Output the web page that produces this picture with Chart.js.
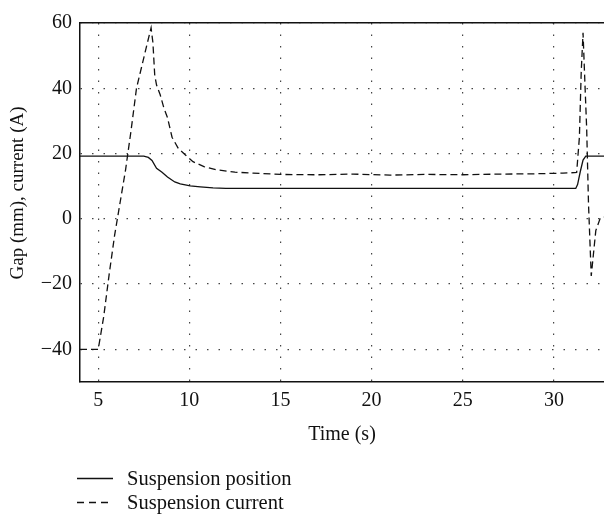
<!DOCTYPE html>
<html>
<head>
<meta charset="utf-8">
<script src="https://cdn.jsdelivr.net/npm/chart.js@4/dist/chart.umd.min.js"></script>
<style>
  body { margin: 0; background: #fff; }
  #wrap { position: relative; width: 604px; height: 516px; }
  #legend { position: absolute; left: 0; top: 0; font-family: 'Liberation Serif', serif; font-size: 20.5px; color: #111; }
  .row { position: absolute; left: 76px; white-space: nowrap; height: 24px; line-height: 24px; }
  .row svg { position: absolute; left: 0; top: 11px; }
  .row span { position: absolute; left: 51px; top: 0; }
</style>
</head>
<body>
<div id="wrap">
  <canvas id="myChart" width="604" height="516"></canvas>
  <div id="legend">
    <div class="row" style="top:466px"><svg width="40" height="3"><line x1="1" y1="1.5" x2="37" y2="1.5" stroke="#111" stroke-width="1.3"/></svg><span>Suspension position</span></div>
    <div class="row" style="top:490px"><svg width="40" height="3"><line x1="1" y1="1.5" x2="37" y2="1.5" stroke="#111" stroke-width="1.3" stroke-dasharray="7,5"/></svg><span>Suspension current</span></div>
  </div>
</div>
<script>
// values
const pos_time = [4, 7.5, 7.75, 7.95, 8.2, 8.5, 8.8, 9.2, 9.5, 10.05, 10.6, 11.3, 12.0, 31.2, 31.3, 31.45, 31.6, 31.75, 32.75];
const pos_value = [19.2, 19.2, 18.8, 17.9, 15.5, 14.3, 12.8, 11.3, 10.7, 10.1, 9.8, 9.5, 9.3, 9.3, 10.5, 14.5, 18, 19.2, 19.2];

const cur_time = [4, 5.0, 5.3, 5.6, 5.9, 6.2, 6.5, 6.8, 7.1, 7.4, 7.7, 7.9, 8.0, 8.1, 8.2, 8.4, 8.6, 8.8, 9.05, 9.4, 9.8, 10.2, 10.8, 11.5, 12.5, 13.5, 15, 17, 19, 21, 23, 25, 27, 29, 30.5, 31.25, 31.4, 31.5, 31.6, 31.7, 31.8, 31.9, 32.05, 32.3, 32.55, 32.75];
const cur_value = [-40, -40, -30, -17, -5, 5, 15, 27, 40, 47, 54, 58.5, 54, 44, 41, 38, 34, 31, 25, 21.5, 19.5, 17.5, 16, 15, 14.3, 14, 13.6, 13.5, 13.7, 13.4, 13.6, 13.5, 13.7, 13.8, 14, 14.2, 25, 45, 57, 42, 27.5, 4.5, -17.5, -3.6, 0.3, 0.5];

const x_ticks = [5, 10, 15, 20, 25, 30];
const y_ticks = [-40, -20, 0, 20, 40, 60];

const FONT = 'Liberation Serif';

function pts(xs, ys) {
  return xs.map((x, i) => ({x: x, y: ys[i]}));
}

const ctx = document.getElementById('myChart').getContext('2d');
const myChart = new Chart(ctx, {
  type: 'line',
  data: {
    datasets: [
      {
        label: 'Suspension position',
        data: pts(pos_time, pos_value),
        borderColor: '#111',
        borderWidth: 1.3,
        pointRadius: 0,
        fill: false,
        tension: 0
      },
      {
        label: 'Suspension current',
        data: pts(cur_time, cur_value),
        borderColor: '#111',
        borderWidth: 1.3,
        borderDash: [7, 4],
        pointRadius: 0,
        fill: false,
        tension: 0
      }
    ]
  },
  options: {
    responsive: false,
    animation: false,
    layout: { padding: { top: 15, right: 0, bottom: 69, left: 0 } },
    plugins: { legend: { display: false }, tooltip: { enabled: false } },
    scales: {
      x: {
        type: 'linear',
        min: 4,
        max: 32.75,
        afterBuildTicks: (s) => { s.ticks = x_ticks.map(v => ({value: v})); },
        afterFit: (s) => { s.height = 65; },
        ticks: { color: '#111', font: { family: FONT, size: 20 }, padding: 7, maxRotation: 0 },
        grid: { color: '#444', lineWidth: 1.2, drawTicks: false },
        border: { color: '#111', width: 1.5, dash: [1.5, 10] },
        title: { display: true, text: 'Time (s)', color: '#111', font: { family: FONT, size: 20 }, padding: { top: 0, bottom: 0 } }
      },
      xtop: {
        type: 'linear',
        position: 'top',
        min: 4,
        max: 32.75,
        ticks: { display: false },
        grid: { display: false },
        border: { color: '#111', width: 1.5 }
      },
      y: {
        min: -50,
        max: 60,
        afterBuildTicks: (s) => { s.ticks = y_ticks.map(v => ({value: v})); },
        afterFit: (s) => { s.width = 80; },
        ticks: {
          color: '#111', font: { family: FONT, size: 20 }, padding: 8,
          callback: (v) => String(v).replace('-', '\u2212')
        },
        grid: { color: '#444', lineWidth: 1.2, drawTicks: false },
        border: { color: '#111', width: 1.5, dash: [1.5, 10] },
        title: { display: true, text: '\u2002\u2002Gap (mm), current (A)', color: '#111', font: { family: FONT, size: 19 }, padding: { top: 7, bottom: 0 } }
      }
    }
  }
});
</script>
</body>
</html>
